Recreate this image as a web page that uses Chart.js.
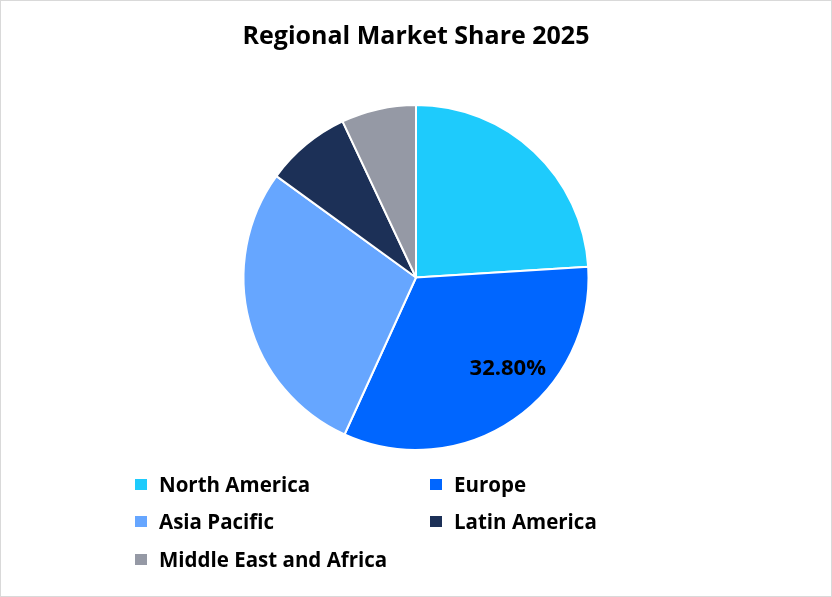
<!DOCTYPE html>
<html>
<head>
<meta charset="utf-8">
<script src="https://cdn.jsdelivr.net/npm/chart.js@4.4.1/dist/chart.umd.min.js"></script>
<style>
  html, body { margin: 0; padding: 0; background: #fff; }
  #wrap { position: relative; width: 832px; height: 597px; box-sizing: border-box; border: 1px solid #d9d9d9; }
  #chart1 { position: absolute; left: 0; top: 0; }
  #legend { position: absolute; left: 0; top: 0; width: 832px; height: 597px; pointer-events: none;
            font-family: "Open Sans", "Noto Sans", sans-serif; font-weight: bold; font-size: 20.5px; color: #000; }
  .item { position: absolute; white-space: nowrap; line-height: 24px; }
  .item span.box { position: absolute; width: 12px; height: 11px; left: -24px; top: 7px; }
</style>
</head>
<body>
<div id="wrap">
  <canvas id="chart1" width="830" height="595"></canvas>
  <div id="legend"></div>
</div>
<script>
const regions = ["North America", "Europe", "Asia Pacific", "Latin America", "Middle East and Africa"];
const shares = [24.0, 32.8, 28.2, 8.0, 7.0];
const sliceColors = ['#1ecbfc', '#0066ff', '#66a6ff', '#1c3057', '#9599a5'];
const labelledSlice = 1; // only Europe carries a data label

// draw "32.80%" inside the Europe slice
const sliceLabel = {
  id: 'sliceLabel',
  afterDatasetsDraw(chart) {
    const arc = chart.getDatasetMeta(0).data[labelledSlice];
    const a = arc.startAngle + (arc.endAngle - arc.startAngle) * 0.41;
    const r = arc.outerRadius * 0.75;
    const ctx = chart.ctx;
    ctx.save();
    ctx.font = 'bold 22px "Open Sans", "Noto Sans", sans-serif';
    ctx.fillStyle = '#000';
    ctx.textAlign = 'center';
    ctx.textBaseline = 'middle';
    ctx.fillText(shares[labelledSlice].toFixed(2) + '%', arc.x + Math.cos(a) * r, arc.y + Math.sin(a) * r);
    ctx.restore();
  }
};

// two column legend like the excel one
function buildLegend(chart) {
  const pos = [[158, 471], [453, 471], [158, 508], [453, 508], [158, 546]];
  const el = document.getElementById('legend');
  el.innerHTML = '';
  chart.data.labels.forEach((lab, i) => {
    const d = document.createElement('div');
    d.className = 'item';
    d.style.left = pos[i][0] + 'px';
    d.style.top = pos[i][1] + 'px';
    d.innerHTML = '<span class="box" style="background:' + sliceColors[i] + '"></span>' + lab;
    el.appendChild(d);
  });
}

const chart = new Chart(document.getElementById('chart1'), {
  type: 'pie',
  data: {
    labels: regions,
    datasets: [{
      data: shares,
      backgroundColor: sliceColors,
      borderColor: '#ffffff',
      borderWidth: 2
    }]
  },
  options: {
    responsive: false,
    animation: false,
    layout: { padding: { top: 0, bottom: 145, left: 0, right: 0 } },
    plugins: {
      legend: { display: false },
      tooltip: { enabled: false },
      title: {
        display: true,
        text: 'Regional Market Share 2025',
        color: '#000',
        font: { family: '"Open Sans", "Noto Sans", sans-serif', size: 25, weight: 'bold' },
        padding: { top: 21, bottom: 52 }
      }
    }
  },
  plugins: [sliceLabel]
});
buildLegend(chart);
</script>
</body>
</html>
